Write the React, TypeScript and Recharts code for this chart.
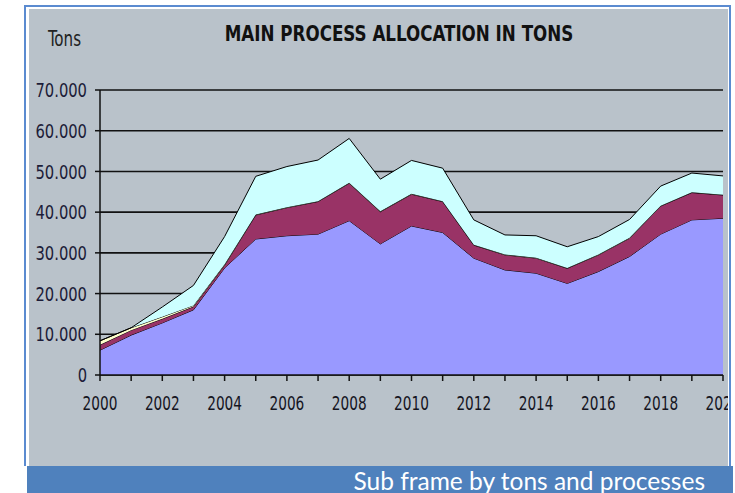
import React from "react";
import { AreaChart, Area, XAxis, YAxis, CartesianGrid } from "recharts";

// years on the x axis
const years = [
  2000, 2001, 2002, 2003, 2004, 2005, 2006, 2007, 2008, 2009, 2010,
  2011, 2012, 2013, 2014, 2015, 2016, 2017, 2018, 2019, 2020,
];

// stacked series, bottom to top (tons)
const processA = [
  6100, 9800, 12800, 16000, 26300, 33400, 34200, 34600, 37900, 32200, 36600,
  35000, 28700, 25800, 25000, 22500, 25400, 29100, 34600, 38100, 38500,
];
const processB = [
  1300, 1200, 1000, 800, 700, 5900, 6900, 8000, 9200, 7900, 7800,
  7600, 3200, 3700, 3700, 3700, 4100, 4500, 6900, 6700, 5700,
];
const processC = [
  1000, 600, 500, 300, 200, 100, 100, 100, 100, 100, 100,
  100, 100, 100, 100, 100, 100, 100, 100, 100, 100,
];
const processD = [
  0, 0, 2400, 4900, 6800, 9400, 10000, 10100, 10900, 7900, 8200,
  8100, 6100, 4800, 5400, 5200, 4400, 4500, 4800, 4700, 4600,
];

const yTicks = [0, 10000, 20000, 30000, 40000, 50000, 60000, 70000];

const data = years.map((year, i) => ({
  year,
  a: processA[i],
  b: processB[i],
  c: processC[i],
  d: processD[i],
}));

const narrow = "'DejaVu Sans Condensed', 'DejaVu Sans', sans-serif";

const formatTons = (v: number) =>
  v === 0 ? "0" : `${Math.floor(v / 1000)}.${String(v % 1000).padStart(3, "0")}`;

// squeezed tick labels, the original uses a tall narrow face
const YearTick = (props: any) => {
  const { x, y, payload } = props;
  if (payload.value % 2 !== 0) return null;
  return (
    <g transform={`translate(${x},${y}) scale(0.8,1)`}>
      <text x={0} y={0} dy="0.71em" textAnchor="middle" fontFamily={narrow} fontStretch="condensed" fontSize={19} fill="#15151f">
        {payload.value}
      </text>
    </g>
  );
};

const TonsTick = (props: any) => {
  const { x, y, payload } = props;
  return (
    <g transform={`translate(${x},${y}) scale(0.82,1)`}>
      <text x={0} y={0} dy="0.355em" textAnchor="end" fontFamily={narrow} fontStretch="condensed" fontSize={20} fill="#1c1c38">
        {formatTons(payload.value)}
      </text>
    </g>
  );
};

export default function App() {
  return (
    <div
      style={{
        position: "absolute",
        left: 0,
        top: 0,
        width: 735,
        height: 493,
        background: "white",
        overflow: "hidden",
      }}
    >
      {/* frame border */}
      <div
        style={{
          position: "absolute",
          left: 24,
          top: 5,
          width: 703,
          height: 459,
          borderTop: "2px solid #5B8BD0",
          borderLeft: "2px solid #5B8BD0",
          borderRight: "2px solid #5B8BD0",
          background: "white",
        }}
      />
      {/* gray frame */}
      <div
        style={{
          position: "absolute",
          left: 29,
          top: 9,
          width: 699,
          height: 457,
          background: "#B9C2CA",
          overflow: "hidden",
        }}
      >
        <div
          style={{
            position: "absolute",
            left: 19,
            top: 18,
            fontFamily: narrow,
            fontStretch: "condensed",
            fontSize: 21,
            color: "#222",
            transform: "scaleX(0.8)",
            transformOrigin: "left top",
          }}
        >
          Tons
        </div>
        <div
          style={{
            position: "absolute",
            left: 0,
            width: 740,
            top: 13,
            textAlign: "center",
            fontFamily: narrow,
            fontStretch: "condensed",
            fontWeight: "bold",
            fontSize: 21,
            color: "#111",
            transform: "scaleX(0.885)",
            transformOrigin: "center top",
          }}
        >
          MAIN PROCESS ALLOCATION IN TONS
        </div>
        <div style={{ position: "absolute", left: 0, top: 0 }}>
          <AreaChart
            width={740}
            height={457}
            data={data}
            margin={{ top: 81, right: 46, bottom: 61, left: 0 }}
          >
            <CartesianGrid
              vertical={false}
              stroke="#111"
              strokeWidth={1.6}
              horizontalValues={yTicks}
            />
            <XAxis
              dataKey="year"
              interval={0}
              tickSize={6}
              tickMargin={16}
              stroke="#111"
              strokeWidth={1.5}
              tick={<YearTick />}
              height={30}
            />
            <YAxis
              domain={[0, 70000]}
              ticks={yTicks}
              width={71}
              tickSize={5}
              tickMargin={8}
              stroke="#111"
              strokeWidth={1.5}
              tick={<TonsTick />}
            />
            <Area
              type="linear"
              dataKey="a"
              stackId="1"
              stroke="#000"
              strokeWidth={1}
              fill="#9999FF"
              fillOpacity={1}
              isAnimationActive={false}
            />
            <Area
              type="linear"
              dataKey="b"
              stackId="1"
              stroke="#000"
              strokeWidth={1}
              fill="#993366"
              fillOpacity={1}
              isAnimationActive={false}
            />
            <Area
              type="linear"
              dataKey="c"
              stackId="1"
              stroke="#000"
              strokeWidth={1}
              fill="#FFFFCC"
              fillOpacity={1}
              isAnimationActive={false}
            />
            <Area
              type="linear"
              dataKey="d"
              stackId="1"
              stroke="#000"
              strokeWidth={1}
              fill="#CCFFFF"
              fillOpacity={1}
              isAnimationActive={false}
            />
          </AreaChart>
        </div>
      </div>
      {/* blue caption bar */}
      <div
        style={{
          position: "absolute",
          left: 27,
          top: 466,
          width: 706,
          height: 27,
          background: "#4F81BD",
          overflow: "hidden",
        }}
      >
        <div
          style={{
            position: "absolute",
            right: 28,
            top: 0,
            fontFamily: "Lato, 'Open Sans', sans-serif",
            fontSize: 24.5,
            lineHeight: "30px",
            color: "white",
            whiteSpace: "nowrap",
          }}
        >
          Sub frame by tons and processes
        </div>
      </div>
    </div>
  );
}
